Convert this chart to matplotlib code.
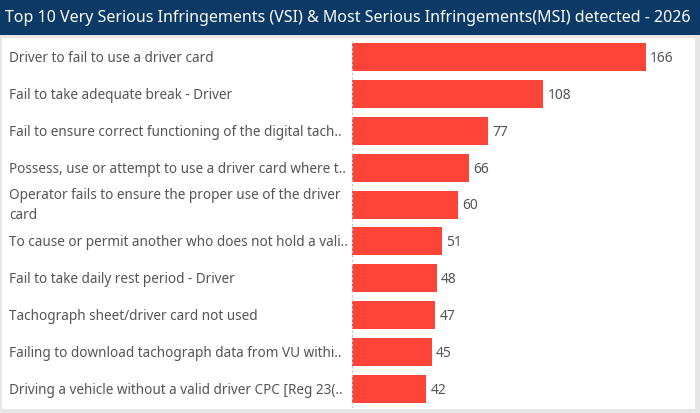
import matplotlib.pyplot as plt
from matplotlib.patches import Rectangle
from matplotlib.transforms import blended_transform_factory

title = "Top 10 Very Serious Infringements (VSI) & Most Serious Infringements(MSI) detected - 2026"

infringements = [
    "Driver to fail to use a driver card",
    "Fail to take adequate break - Driver",
    "Fail to ensure correct functioning of the digital tach..",
    "Possess, use or attempt to use a driver card where t..",
    "Operator fails to ensure the proper use of the driver\ncard",
    "To cause or permit another who does not hold a vali..",
    "Fail to take daily rest period - Driver",
    "Tachograph sheet/driver card not used",
    "Failing to download tachograph data from VU withi..",
    "Driving a vehicle without a valid driver CPC [Reg 23(..",
]
counts = [166, 108, 77, 66, 60, 51, 48, 47, 45, 42]

W, H = 700, 413
bar_color = "#FC4438"
text_color = "#555555"
plt.rcParams["font.family"] = ["Noto Sans", "DejaVu Sans"]

fig = plt.figure(figsize=(W / 100, H / 100), dpi=100)
fig.patch.set_facecolor("#E6E6E6")


def fx(px):
    return px / W


def fy(py):
    return 1 - py / H


# title band and white panel
fig.patches.append(Rectangle((0, fy(35)), 1, 35 / H, transform=fig.transFigure,
                             facecolor="#0B3A66", edgecolor="none", zorder=0))
fig.patches.append(Rectangle((fx(2), fy(409)), fx(693), (409 - 38) / H,
                             transform=fig.transFigure, facecolor="white",
                             edgecolor="none", zorder=0))
fig.text(fx(5), fy(17.5), title, color="white", fontsize=11.5, va="center", ha="left")

# bar axes
top, bottom = 38.5, 407.5
left, right = 352, 695
ax = fig.add_axes([fx(left), fy(bottom), fx(right - left), (bottom - top) / H])
ax.set_zorder(2)
ax.set_facecolor("none")
rows = list(range(len(counts)))
ax.barh(rows, counts, height=0.76, color=bar_color, zorder=2)
ax.set_ylim(len(counts) - 0.5, -0.5)
ax.set_xlim(0, (right - left) / 1.771)
ax.axvline(0, color="#C4C4C4", lw=0.8, ls=(0, (2, 2)), zorder=3)
for s in ax.spines.values():
    s.set_visible(False)
ax.set_xticks([])
ax.set_yticks([])

for r, v in zip(rows, counts):
    ax.annotate(str(v), (v, r), xytext=(3, -1), textcoords="offset points",
                va="center", ha="left", fontsize=10, color=text_color)

trans = blended_transform_factory(fig.transFigure, ax.transData)
for r, lab in zip(rows, infringements):
    ax.annotate(lab, (fx(9), r), xycoords=trans, xytext=(0, -1),
                textcoords="offset points", va="center", ha="left",
                fontsize=9.75, color=text_color, linespacing=1.45,
                annotation_clip=False)

fig.savefig("out.png", dpi=100, facecolor=fig.get_facecolor())
